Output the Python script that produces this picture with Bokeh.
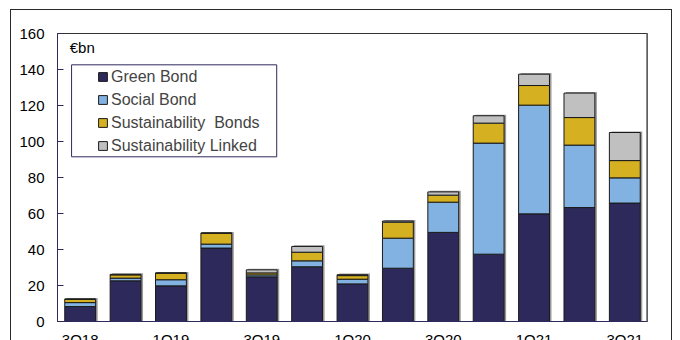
import numpy as np
from bokeh.plotting import figure
from bokeh.models import (ColumnDataSource, Legend, LegendItem, Label,
                          BoxAnnotation, Span, FixedTicker, Range1d)
from bokeh.embed import file_html
from bokeh.resources import INLINE

# ---- data (EUR bn) ----
quarters = ["3Q18", "4Q18", "1Q19", "2Q19", "3Q19", "4Q19", "1Q20",
            "2Q20", "3Q20", "4Q20", "1Q21", "2Q21", "3Q21"]
green_bond = [8.3, 22.6, 19.8, 40.8, 24.8, 30.4, 20.9, 29.6, 49.5, 37.4, 59.8, 63.3, 65.8]
social_bond = [2.2, 1.5, 3.4, 2.2, 1.1, 3.3, 2.6, 16.7, 16.8, 61.7, 60.4, 34.7, 14.0]
sustainability_bonds = [1.9, 1.8, 3.7, 6.1, 1.1, 4.8, 2.0, 8.9, 3.9, 11.1, 10.9, 15.3, 9.6]
sustainability_linked = [0.0, 0.3, 0.0, 0.0, 1.7, 3.2, 0.5, 0.6, 1.8, 4.1, 6.3, 13.6, 15.6]
series_names = ["Green Bond", "Social Bond", "Sustainability  Bonds", "Sustainability Linked"]
y_ticks = [0, 20, 40, 60, 80, 100, 120, 140, 160]
unit_label = "€bn"

colors = ["#2D2A5B", "#82B2E1", "#D5B020", "#C0C0C0"]
FONT = "Liberation Sans"

series = [green_bond, social_bond, sustainability_bonds, sustainability_linked]
n = len(quarters)
xs = np.arange(n) + 0.5
arr = np.array(series, dtype=float)
tops = np.cumsum(arr, axis=0)
bottoms = tops - arr
totals = tops[-1]

p = figure(width=662, height=360, x_range=Range1d(0, n), y_range=Range1d(0, 160),
           output_backend="svg", toolbar_location=None,
           min_border_left=46, min_border_right=26, min_border_top=23, min_border_bottom=49)
p.styles = {"margin-left": "10px", "margin-top": "9px",
            "border-left": "1px solid #2a2a2a", "border-top": "1px solid #2a2a2a",
            "border-right": "1px solid #2a2a2a"}
p.background_fill_color = "white"
p.border_fill_color = "white"
p.outline_line_color = "#333333"
p.outline_line_width = 1
p.xgrid.visible = False
p.ygrid.visible = False

# bar shadow
p.vbar(x=xs + 0.045, top=totals + 0.6, bottom=0, width=0.68,
       fill_color="#9a9a9a", line_color=None)

renderers = []
for i, name in enumerate(series_names):
    src = ColumnDataSource(dict(x=xs, top=tops[i], bottom=bottoms[i]))
    r = p.vbar(x="x", top="top", bottom="bottom", width=0.68, source=src,
               fill_color=colors[i], line_color="#1a1a1a", line_width=1)
    renderers.append((name, r))

# right frame shadow
p.add_layout(Span(location=n, dimension="height", line_color="#8c8c8c", line_width=3))

# axes
yax = p.yaxis[0]
yax.ticker = FixedTicker(ticks=y_ticks)
yax.major_label_text_font = FONT
yax.major_label_text_font_size = "15px"
yax.major_label_text_color = "black"
yax.axis_line_color = "#2E2A5C"
yax.major_tick_line_color = "#2E2A5C"
yax.major_tick_in = 6
yax.major_tick_out = 0
yax.minor_tick_line_color = None
yax.major_label_standoff = 13

xax = p.xaxis[0]
tick_pos = [float(v) for v in xs[::2]]
xax.ticker = FixedTicker(ticks=tick_pos)
xax.major_label_overrides = {float(xs[i]): quarters[i] for i in range(0, n, 2)}
xax.major_label_text_font = FONT
xax.major_label_text_font_size = "15px"
xax.major_label_text_color = "black"
xax.axis_line_color = "#2E2A5C"
xax.major_tick_line_color = None
xax.major_tick_in = 0
xax.major_tick_out = 0
xax.minor_tick_line_color = None
xax.major_label_standoff = 9

# legend
legend = Legend(items=[LegendItem(label=nm, renderers=[r]) for nm, r in renderers],
                location=(40, 164), orientation="vertical",
                label_text_font=FONT, label_text_font_size="16px",
                label_height=23, glyph_height=11, glyph_width=11,
                spacing=0, padding=0, margin=0, label_standoff=3,
                border_line_alpha=0, background_fill_alpha=0)
p.add_layout(legend, "center")

p.add_layout(BoxAnnotation(left=0.31, right=4.83, bottom=91.5, top=142.6,
                           fill_alpha=0, line_color="#2E2A5C", line_alpha=1,
                           line_width=1))

p.add_layout(Label(x=0.27, y=152.5, text=unit_label, text_baseline="middle",
                   text_font=FONT, text_font_size="15px", text_color="black"))

open("out.html", "w").write(file_html(p, INLINE))
